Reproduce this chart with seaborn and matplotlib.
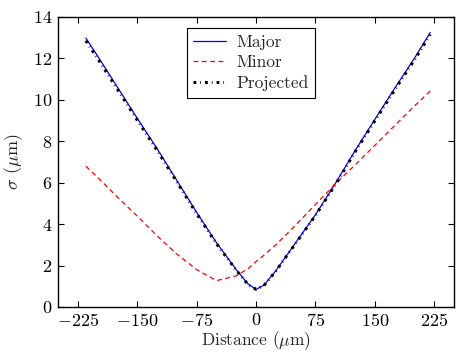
import numpy as np
import pandas as pd
import matplotlib
matplotlib.use('Agg')
import matplotlib.pyplot as plt
import seaborn as sns

# values
distance = [-215, -200, -175, -150, -125, -100, -75, -50, -25, -10, 0,
            10, 25, 50, 75, 100, 125, 150, 175, 200, 220]
major = [12.98, 12.10, 10.60, 9.10, 7.64, 6.10, 4.56, 3.10, 1.80, 1.10, 0.85,
         1.05, 1.75, 3.10, 4.45, 5.95, 7.54, 9.05, 10.55, 12.00, 13.25]
minor = [6.79, 6.25, 5.30, 4.38, 3.43, 2.55, 1.80, 1.27, 1.50, 1.85, 2.19,
         2.50, 3.00, 3.95, 4.95, 5.93, 6.85, 7.80, 8.75, 9.70, 10.42]
projected = [12.85, 11.98, 10.50, 9.01, 7.56, 6.03, 4.50, 3.05, 1.77, 1.08, 0.85,
             1.04, 1.73, 3.07, 4.41, 5.90, 7.48, 8.98, 10.47, 11.92, 13.15]

df = pd.DataFrame({'distance': distance, 'major': major,
                   'minor': minor, 'projected': projected})

sns.set_style('ticks')
plt.rcParams['font.family'] = 'serif'
plt.rcParams['font.serif'] = ['cmr10', 'DejaVu Serif']
plt.rcParams['mathtext.fontset'] = 'cm'
plt.rcParams['axes.formatter.use_mathtext'] = True
plt.rcParams['axes.unicode_minus'] = True
plt.rcParams['lines.scale_dashes'] = False

fig = plt.figure(figsize=(4.69, 3.52), dpi=100)
ax = fig.add_axes([0.124, 0.128, 0.844, 0.824])

sns.lineplot(data=df, x='distance', y='major', ax=ax, color='blue',
             linewidth=0.9, label='Major')
sns.lineplot(data=df, x='distance', y='minor', ax=ax, color='red',
             linewidth=0.9, label='Minor')
ax.lines[-1].set_dashes((3.5, 2.5))
sns.lineplot(data=df, x='distance', y='projected', ax=ax, color='black',
             linewidth=2.2, label='Projected')
ax.lines[-1].set_dashes((2.0, 2.9, 0.5, 2.9))

ax.set_xlim(-250, 250)
ax.set_ylim(0, 14)
ax.set_xticks([-225, -150, -75, 0, 75, 150, 225])
ax.set_yticks([0, 2, 4, 6, 8, 10, 12, 14])
ax.tick_params(direction='in', top=True, right=True, length=4, width=0.8,
               labelsize=13, pad=4, colors='black')
for s in ax.spines.values():
    s.set_color('black')
    s.set_linewidth(1.0)

ax.set_xlabel(r'Distance ($\mu$m)', fontsize=12.5, labelpad=0)
ax.set_ylabel(r'$\sigma$ ($\mu$m)', fontsize=13, labelpad=6)

leg = ax.legend(loc='upper center', fontsize=12.5, frameon=True, fancybox=False,
                handlelength=1.9, handletextpad=0.6, borderpad=0.35,
                labelspacing=0.3, bbox_to_anchor=(0.487, 0.99))
leg.get_frame().set_edgecolor('black')
leg.get_frame().set_linewidth(0.8)
leg.get_frame().set_alpha(1)

plt.savefig('out.png', dpi=100)
